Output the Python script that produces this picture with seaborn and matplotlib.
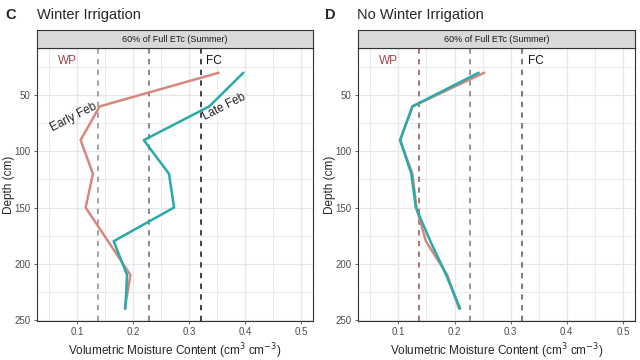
import matplotlib
matplotlib.use("Agg")
import matplotlib.pyplot as plt
import seaborn as sns
import pandas as pd
import numpy as np

# ---- data ----
depth_c_early = [30, 60, 90, 120, 150, 210, 240]
vmc_c_early = [0.353, 0.140, 0.106, 0.128, 0.115, 0.195, 0.185]
depth_c_late = [30, 60, 90, 120, 150, 180, 210, 240]
vmc_c_late = [0.397, 0.336, 0.219, 0.264, 0.273, 0.165, 0.189, 0.186]

depth_d_early = [30, 60, 90, 120, 150, 180, 210, 240]
vmc_d_early = [0.253, 0.125, 0.103, 0.125, 0.132, 0.149, 0.187, 0.208]
depth_d_late = [30, 60, 90, 120, 150, 180, 210, 240]
vmc_d_late = [0.243, 0.125, 0.103, 0.123, 0.131, 0.157, 0.185, 0.210]

thresholds = [0.137, 0.228, 0.321]
x_ticks = [0.1, 0.2, 0.3, 0.4, 0.5]
y_ticks = [50, 100, 150, 200, 250]

panel_titles = ["Winter Irrigation", "No Winter Irrigation"]
panel_letters = ["C", "D"]
strip_text = "60% of Full ETc (Summer)"

def make_df(de, ve, dl, vl):
    return pd.concat([
        pd.DataFrame({"depth": de, "vmc": ve, "time": "Early Feb"}),
        pd.DataFrame({"depth": dl, "vmc": vl, "time": "Late Feb"}),
    ], ignore_index=True)

dfs = [make_df(depth_c_early, vmc_c_early, depth_c_late, vmc_c_late),
       make_df(depth_d_early, vmc_d_early, depth_d_late, vmc_d_late)]

palette = {"Early Feb": "#D8877E", "Late Feb": "#28AAAA"}
thr_colors = [["#8a8a8a", "#6f6670", "#111111"],
              ["#8c4f52", "#7a7a7a", "#555555"]]

sns.set_theme(style="white")
plt.rcParams['font.family'] = ['Liberation Sans', 'DejaVu Sans']

fig = plt.figure(figsize=(6.4, 3.6), dpi=100)
lefts = [37 / 640, 358 / 640]
widths = [(313 - 37) / 640, (635 - 358) / 640]
bottom = 1 - 321 / 360
height = (321 - 48) / 360
strip_h = 18 / 360

for i in range(2):
    ax = fig.add_axes([lefts[i], bottom, widths[i], height])
    df = dfs[i]
    # grid
    for xv in np.arange(0.05, 0.55, 0.05):
        ax.axvline(xv, color="#e6e6e6", lw=0.6 if abs(xv * 10 - round(xv * 10)) > 1e-6 else 0.9, zorder=0)
    for yv in np.arange(25, 275, 25):
        ax.axhline(yv, color="#e6e6e6", lw=0.6 if yv % 50 else 0.9, zorder=0)
    for t, c in zip(thresholds, thr_colors[i]):
        ax.axvline(t, color=c, lw=1.1, ls=(0, (3.5, 3.5)), zorder=1)
    sns.lineplot(data=df, x="vmc", y="depth", hue="time", units="time",
                 estimator=None, sort=False, palette=palette, lw=1.8,
                 legend=False, ax=ax, zorder=3)
    ax.set_xlim(0.028, 0.5215)
    ax.set_ylim(251, 8)
    ax.set_xticks(x_ticks)
    ax.set_xticklabels([f"{v:g}" for v in x_ticks])
    ax.set_yticks(y_ticks)
    ax.set_yticklabels([str(v) for v in y_ticks])
    ax.tick_params(axis="both", labelsize=7, colors="#4d4d4d", length=2.5,
                   width=0.6, pad=2, bottom=True, left=True)
    for s in ax.spines.values():
        s.set_color("#333333")
        s.set_linewidth(0.8)
    ax.set_xlabel("Volumetric Moisture Content (cm$^3$ cm$^{-3}$)", fontsize=8.5, labelpad=3)
    ax.set_ylabel("Depth (cm)", fontsize=8.5)
    ax.yaxis.set_label_coords((15 - 37) / 276, 0.5)
    ax.text(0.082, 20, "WP", color="#A8424A", fontsize=8.5, ha="center", va="center")
    ax.text(0.345, 20, "FC", color="#111111", fontsize=8.5, ha="center", va="center")
    if i == 0:
        ax.text(0.094, 70, "Early Feb", rotation=27, fontsize=8.5, ha="center", va="center", zorder=5)
        ax.text(0.362, 60, "Late Feb", rotation=27, fontsize=8.5, ha="center", va="center", zorder=5)
    # strip
    sax = fig.add_axes([lefts[i], bottom + height, widths[i], strip_h])
    sax.set_facecolor("#d9d9d9")
    sax.set_xticks([]); sax.set_yticks([])
    for s in sax.spines.values():
        s.set_color("#333333"); s.set_linewidth(0.8)
    sax.text(0.5, 0.5, strip_text, fontsize=6.5, color="#1a1a1a", ha="center", va="center", transform=sax.transAxes)
    # titles
    fig.text((5 if i == 0 else 325) / 640, 1 - 15 / 360, panel_letters[i], fontsize=10.5,
             fontweight="bold", ha="left", va="center")
    fig.text((37 if i == 0 else 357) / 640, 1 - 15 / 360, panel_titles[i], fontsize=10.5,
             ha="left", va="center")

fig.savefig("out.png", dpi=100)
